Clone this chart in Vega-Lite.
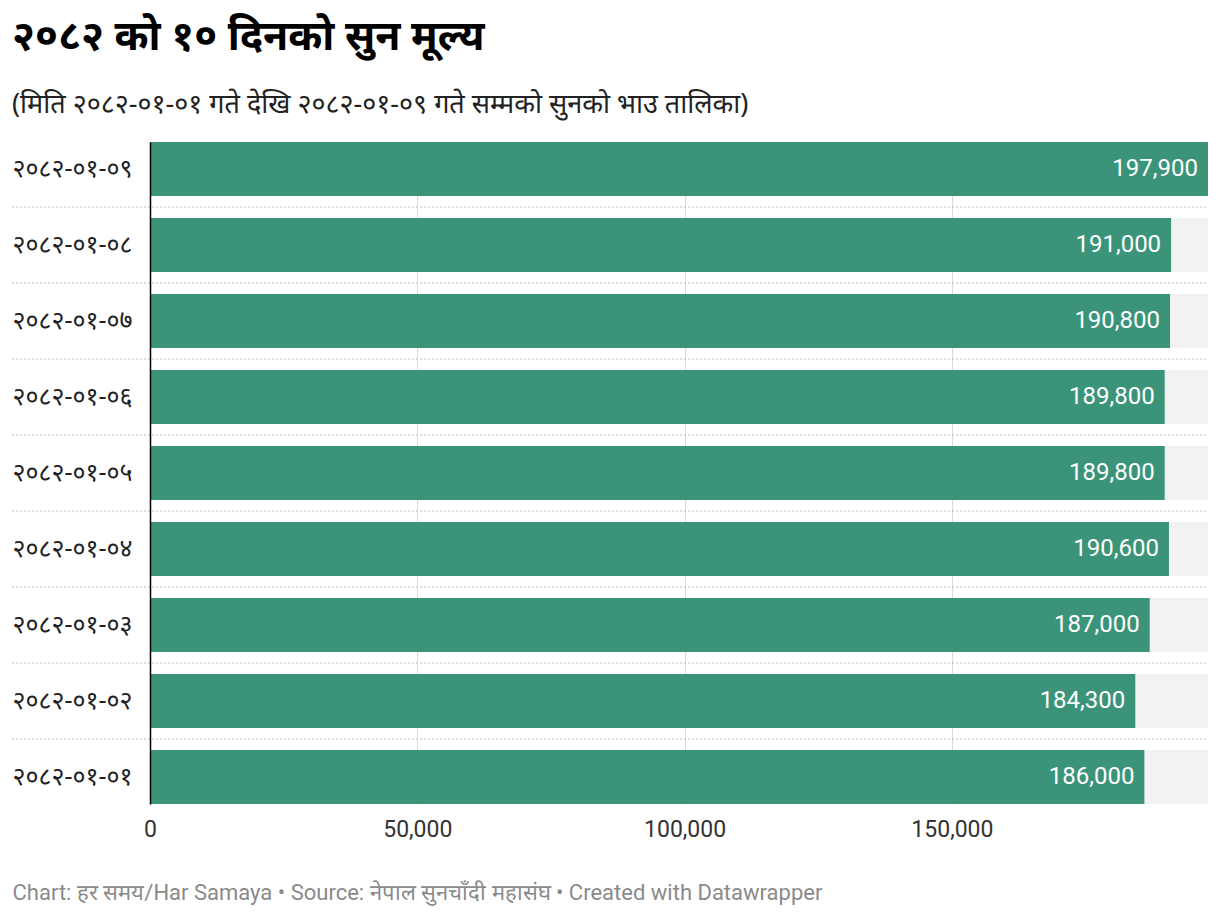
{
  "$schema": "https://vega.github.io/schema/vega-lite/v6.json",
  "description": "२०८२ को १० दिनको सुन मूल्य",
  "width": 1058,
  "height": 662,
  "autosize": "none",
  "padding": {"left": 150, "top": 142, "right": 12, "bottom": 114},
  "background": "#ffffff",
  "title": {
    "text": "२०८२ को १० दिनको सुन मूल्य",
    "subtitle": "(मिति २०८२-०१-०१ गते देखि २०८२-०१-०९ गते सम्मको सुनको भाउ तालिका)",
    "anchor": "start",
    "frame": "group",
    "dx": -138,
    "offset": 23,
    "font": "Noto Sans",
    "fontSize": 41,
    "fontWeight": "bold",
    "color": "#000000",
    "subtitleFont": "Noto Sans",
    "subtitleFontSize": 27,
    "subtitleColor": "#222222",
    "subtitlePadding": 33
  },
  "data": {
    "values": [
      {"date": "२०८२-०१-०९", "price": 197900},
      {"date": "२०८२-०१-०८", "price": 191000},
      {"date": "२०८२-०१-०७", "price": 190800},
      {"date": "२०८२-०१-०६", "price": 189800},
      {"date": "२०८२-०१-०५", "price": 189800},
      {"date": "२०८२-०१-०४", "price": 190600},
      {"date": "२०८२-०१-०३", "price": 187000},
      {"date": "२०८२-०१-०२", "price": 184300},
      {"date": "२०८२-०१-०१", "price": 186000}
    ]
  },
  "transform": [
    {"joinaggregate": [{"op": "max", "field": "price", "as": "maxPrice"}]}
  ],
  "layer": [
    {
      "mark": {"type": "bar", "color": "#f2f2f2"},
      "encoding": {
        "y": {
          "field": "date",
          "type": "nominal",
          "sort": "descending",
          "scale": {"paddingInner": 0.29, "paddingOuter": 0},
          "axis": {
            "title": null,
            "ticks": false,
            "zindex": 1,
            "domainColor": "#000000",
            "domainWidth": 1.5,
            "labelFont": "Noto Sans",
            "labelFontSize": 25,
            "labelColor": "#222222",
            "labelPadding": 18
          }
        },
        "x": {
          "field": "maxPrice",
          "type": "quantitative",
          "scale": {"domain": [0, 197900], "nice": false},
          "axis": {
            "values": [0, 50000, 100000, 150000],
            "format": ",d",
            "grid": true,
            "gridColor": "#d9d9d9",
            "gridWidth": 1,
            "ticks": false,
            "domain": false,
            "labelFlush": false,
            "labelFont": "Roboto",
            "labelFontSize": 23,
            "labelColor": "#333333",
            "labelPadding": 14,
            "title": "Chart: हर समय/Har Samaya • Source: नेपाल सुनचाँदी महासंघ • Created with Datawrapper",
            "titleFont": "Roboto",
            "titleFontSize": 22,
            "titleFontWeight": "normal",
            "titleColor": "#8a8a8a",
            "titleAnchor": "start",
            "titleAlign": "left",
            "titleBaseline": "alphabetic",
            "titleX": -138,
            "titleY": 95
          }
        }
      }
    },
    {
      "transform": [{"filter": "datum.date != '२०८२-०१-०१'"}],
      "mark": {"type": "rule", "color": "#bbbbbb", "strokeDash": [2, 2], "strokeWidth": 1},
      "encoding": {
        "y": {"field": "date", "type": "nominal", "sort": "descending", "bandPosition": 1.204},
        "x": {"datum": -25800},
        "x2": {"datum": 197900}
      }
    },
    {
      "mark": {"type": "bar", "color": "#3b9479"},
      "encoding": {
        "y": {"field": "date", "type": "nominal", "sort": "descending"},
        "x": {"field": "price", "type": "quantitative"}
      }
    },
    {
      "mark": {"type": "text", "align": "right", "baseline": "middle", "dx": -10, "color": "#ffffff", "font": "Roboto", "fontSize": 24},
      "encoding": {
        "y": {"field": "date", "type": "nominal", "sort": "descending"},
        "x": {"field": "price", "type": "quantitative"},
        "text": {"field": "price", "type": "quantitative", "format": ","}
      }
    }
  ],
  "config": {"view": {"stroke": null}}
}
